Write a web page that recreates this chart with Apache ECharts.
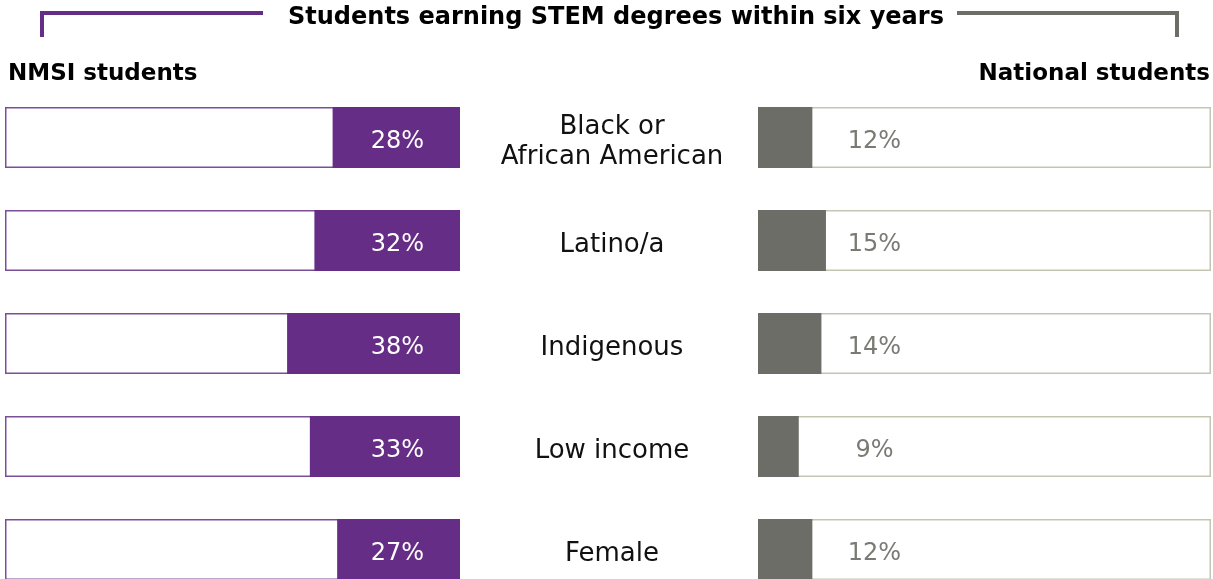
<!DOCTYPE html>
<html>
<head>
<meta charset="utf-8">
<script src="https://cdn.jsdelivr.net/npm/echarts@6/dist/echarts.min.js"></script>
<style>html,body{margin:0;padding:0;background:#fff;overflow:hidden;}#c{width:1213px;height:579px;}</style>
</head>
<body>
<div id="c"></div>
<script>
var categories = ['Black or\nAfrican American', 'Latino/a', 'Indigenous', 'Low income', 'Female'];
var nmsiValues = [28, 32, 38, 33, 27];
var nationalValues = [12, 15, 14, 9, 12];
var fullScale = [100, 100, 100, 100, 100];

var PURPLE = '#652d86';
var GREY = '#6d6d68';
var FONT = '"DejaVu Sans", sans-serif';

var chart = echarts.init(document.getElementById('c'));
chart.setOption({
  animation: false,
  backgroundColor: '#fff',
  title: [{
    text: 'Students earning STEM degrees within six years',
    left: 283, top: 1,
    textStyle: { fontFamily: FONT, fontWeight: 'bold', fontSize: 24, color: '#000' }
  }, {
    text: 'NMSI students', left: 3, top: 58,
    textStyle: { fontFamily: FONT, fontWeight: 'bold', fontSize: 23, color: '#000' }
  }, {
    text: 'National students', right: -2, top: 58,
    textStyle: { fontFamily: FONT, fontWeight: 'bold', fontSize: 23, color: '#000' }
  }],
  graphic: [
    { type: 'polyline', shape: { points: [[42, 37], [42, 13], [263, 13]] },
      style: { stroke: PURPLE, lineWidth: 4, fill: null } },
    { type: 'polyline', shape: { points: [[957, 13], [1177, 13], [1177, 37]] },
      style: { stroke: GREY, lineWidth: 4, fill: null } }
  ],
  grid: [
    { left: 5, width: 455, top: 86, height: 515, outerBoundsMode: 'none', containLabel: false },
    { left: 758, width: 453, top: 86, height: 515, outerBoundsMode: 'none', containLabel: false },
    { left: 612, width: 1, top: 91, height: 515, outerBoundsMode: 'none', containLabel: false }
  ],
  xAxis: [
    { gridIndex: 0, type: 'value', min: 0, max: 100, inverse: true, show: false },
    { gridIndex: 1, type: 'value', min: 0, max: 100, show: false },
    { gridIndex: 2, type: 'value', min: 0, max: 100, show: false }
  ],
  yAxis: [
    { gridIndex: 0, type: 'category', data: categories, inverse: true, show: false },
    { gridIndex: 1, type: 'category', data: categories, inverse: true, show: false },
    { gridIndex: 2, type: 'category', data: categories, inverse: true, position: 'left',
      axisLine: { show: false }, axisTick: { show: false }, splitLine: { show: false },
      axisLabel: { margin: 0, align: 'center', fontFamily: FONT, fontSize: 26, color: '#111', lineHeight: 30 } }
  ],
  series: [
    { type: 'bar', xAxisIndex: 0, yAxisIndex: 0, data: fullScale, barWidth: 61, barGap: '-100%', silent: true,
      itemStyle: { color: '#fff', borderColor: '#7a4f98', borderWidth: 1.5 } },
    { type: 'bar', xAxisIndex: 0, yAxisIndex: 0, data: nmsiValues, barWidth: 61, barGap: '-100%', silent: true,
      itemStyle: { color: PURPLE } },
    { type: 'bar', xAxisIndex: 0, yAxisIndex: 0, data: fullScale, barWidth: 61, barGap: '-100%', silent: true,
      itemStyle: { color: 'rgba(0,0,0,0)' },
      label: { show: true, position: 'inside', offset: [165, 4], fontFamily: FONT, fontSize: 24, color: '#fff',
        formatter: function (p) { return nmsiValues[p.dataIndex] + '%'; } } },
    { type: 'bar', xAxisIndex: 1, yAxisIndex: 1, data: fullScale, barWidth: 61, barGap: '-100%', silent: true,
      itemStyle: { color: '#fff', borderColor: '#c5c5b3', borderWidth: 1.5 } },
    { type: 'bar', xAxisIndex: 1, yAxisIndex: 1, data: nationalValues, barWidth: 61, barGap: '-100%', silent: true,
      itemStyle: { color: GREY } },
    { type: 'bar', xAxisIndex: 1, yAxisIndex: 1, data: fullScale, barWidth: 61, barGap: '-100%', silent: true,
      itemStyle: { color: 'rgba(0,0,0,0)' },
      label: { show: true, position: 'inside', offset: [-110, 4], fontFamily: FONT, fontSize: 24, color: '#7a7a74',
        formatter: function (p) { return nationalValues[p.dataIndex] + '%'; } } }
  ]
});
</script>
</body>
</html>
